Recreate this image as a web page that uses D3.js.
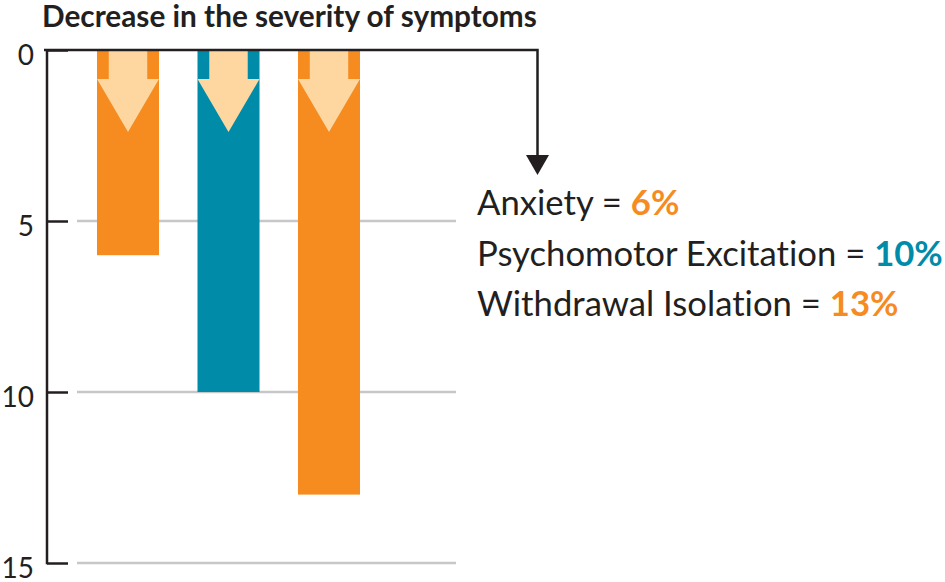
<!DOCTYPE html>
<html>
<head>
<meta charset="utf-8">
<script src="https://cdn.jsdelivr.net/npm/d3@7"></script>
<style>
  body { margin: 0; background: #fff; }
  svg { display: block; font-family: Lato, "Open Sans", sans-serif; font-variant-ligatures: none; }
</style>
</head>
<body>
<div id="chart"></div>
<script>
// data
var categories = ['Anxiety', 'Psychomotor Excitation', 'Withdrawal Isolation'],
    values = [6, 10, 13],
    labels = ['6%', '10%', '13%'],
    barColors = ['#f68b1f', '#008ca9', '#f68b1f'],
    yTicks = [0, 5, 10, 15],
    gridTicks = [5, 10, 15];

var width = 945, height = 582,
    ink = '#231f20',
    peach = '#fdd79f';

var svg = d3.select('#chart')
    .append('svg')
    .attr('width', width)
    .attr('height', height);

let y = d3.scaleLinear().domain([0, 15]).range([50, 563]);
let x = d3.scaleBand().domain(categories).range([97, 360]).paddingInner(0.383).paddingOuter(0);

// fit a text element to a target width
function fitWidth(sel, target) {
    let w = sel.node().getComputedTextLength(),
        fs = parseFloat(sel.attr('font-size'));
    sel.attr('font-size', fs * target / w);
}

// title
let title = svg.append('text')
    .attr('x', 42)
    .attr('y', 27)
    .attr('font-size', 24)
    .attr('font-weight', 700)
    .attr('fill', ink)
    .text('Decrease in the severity of symptoms');
fitWidth(title, 495);

// grid lines
svg.append('g')
    .selectAll('line')
    .data(gridTicks)
    .join('line')
    .attr('x1', 77)
    .attr('x2', 456)
    .attr('y1', d => y(d))
    .attr('y2', d => y(d))
    .attr('stroke', '#c6c7c9')
    .attr('stroke-width', 2.5);

// axis
let yAxis = d3.axisLeft(y).tickValues(yTicks).tickSize(21).tickPadding(13);
let axisG = svg.append('g')
    .attr('transform', 'translate(68,0)')
    .call(yAxis);
axisG.select('.domain').remove();
axisG.selectAll('.tick line').attr('stroke', ink).attr('stroke-width', 2.5);
axisG.selectAll('.tick text')
    .attr('font-family', 'Lato, sans-serif')
    .attr('font-size', 28)
    .attr('font-weight', 400)
    .attr('fill', ink)
    .attr('dy', null)
    .attr('dominant-baseline', 'central')
    .attr('transform', 'translate(0,3.5)');

svg.append('line')
    .attr('x1', 47).attr('x2', 47)
    .attr('y1', y(0)).attr('y2', y(15) + 1.25)
    .attr('stroke', ink)
    .attr('stroke-width', 2.5);

// bars
let bars = svg.append('g')
    .selectAll('g')
    .data(categories.map((c, i) => ({ cat: c, value: values[i], color: barColors[i] })))
    .join('g')
    .attr('transform', d => 'translate(' + x(d.cat) + ',0)');

bars.append('rect')
    .attr('x', 0)
    .attr('y', y(0))
    .attr('width', x.bandwidth())
    .attr('height', d => y(d.value) - y(0))
    .attr('fill', d => d.color);

// arrow inside each bar
bars.append('path')
    .attr('fill', peach)
    .attr('d', function() {
	let bw = x.bandwidth(), y0 = y(0),
	    s0 = bw * 0.19, s1 = bw * 0.81, neck = y0 + 29, tip = y0 + 82;
	return 'M' + s0 + ',' + y0 + 'H' + s1 + 'V' + neck + 'H' + bw +
	    'L' + bw / 2 + ',' + tip + 'L0,' + neck + 'H' + s0 + 'Z';
    });

// bracket line with arrow
let ax = 537.5, ay = y(0);
svg.append('path')
    .attr('d', 'M44,' + ay + 'H' + ax + 'V156')
    .attr('fill', 'none')
    .attr('stroke', ink)
    .attr('stroke-width', 2.5);
svg.append('path')
    .attr('d', 'M' + (ax - 11.5) + ',155H' + (ax + 11.5) + 'L' + ax + ',175Z')
    .attr('fill', ink);

// legend text
let legend = svg.append('g')
    .attr('font-size', 30)
    .attr('fill', ink);
let lines = legend.selectAll('text')
    .data(categories)
    .join('text')
    .attr('x', 477)
    .attr('y', (d, i) => 215 + i * 50.5);
lines.append('tspan').text(d => d + ' = ');
lines.append('tspan')
    .attr('font-weight', 700)
    .attr('fill', (d, i) => barColors[i])
    .text((d, i) => labels[i]);

let w = lines.nodes()[1].getComputedTextLength();
legend.attr('font-size', 30 * 466 / w);
</script>
</body>
</html>
